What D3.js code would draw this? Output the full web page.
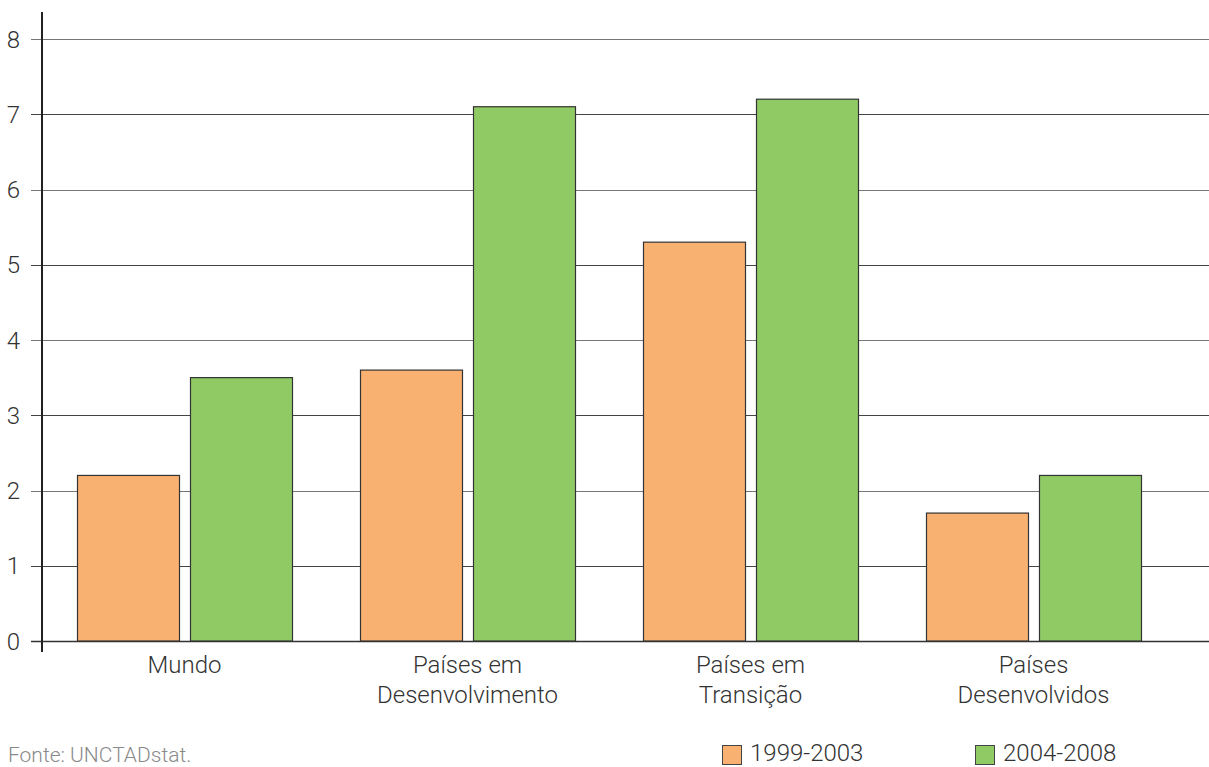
<!DOCTYPE html>
<html>
<head>
<meta charset="utf-8">
<script src="https://cdn.jsdelivr.net/npm/d3@7"></script>
<style>
  html, body { margin: 0; padding: 0; background: #fff; }
  svg { display: block; font-family: Roboto, "Open Sans", sans-serif; font-weight: 300; }
</style>
</head>
<body>
<svg id="chart" width="1209" height="767"></svg>
<script>
// Categories (two-line labels) and series values
const categories = [
  ["Mundo"],
  ["Países em", "Desenvolvimento"],
  ["Países em", "Transição"],
  ["Países", "Desenvolvidos"]
];
const seriesNames = ["1999-2003", "2004-2008"];
const values1999_2003 = [2.2, 3.6, 5.3, 1.7];
const values2004_2008 = [3.5, 7.1, 7.2, 2.2];
const yTicks = [0, 1, 2, 3, 4, 5, 6, 7, 8];
const colors = ["#F9B172", "#8FCA65"];
const source = "Fonte: UNCTADstat.";

const svg = d3.select("#chart");
const axisX = 42, plotRight = 1209;

const y = d3.scaleLinear().domain([0, 8]).range([641, 39]);
const keys = categories.map((c, i) => i);
const x0 = d3.scaleBand().domain(keys).range([axisX, 1176])
  .paddingInner(68 / 283).paddingOuter(35 / 283);
const x1 = d3.scaleBand().domain([0, 1]).range([0, x0.bandwidth()])
  .paddingInner(11 / 113).paddingOuter(0);

// Gridlines with tick marks extending left of the axis
const grid = svg.append("g");
grid.selectAll("line").data(yTicks).join("line")
  .attr("x1", 31).attr("x2", plotRight)
  .attr("y1", d => Math.round(y(d)) + 0.5).attr("y2", d => Math.round(y(d)) + 0.5)
  .attr("stroke", d => d === 0 ? "#333" : (d % 2 === 0 ? "#777" : "#444"))
  .attr("stroke-width", d => d === 0 ? 1.6 : 1);

// Y tick labels
svg.append("g").selectAll("text").data(yTicks).join("text")
  .attr("x", 20).attr("y", d => y(d)).attr("dy", "0.36em")
  .attr("text-anchor", "end").attr("font-size", 24).attr("fill", "#333")
  .text(d => d);

// Bars
const data = keys.map(i => [values1999_2003[i], values2004_2008[i]]);
const groups = svg.append("g").selectAll("g").data(data).join("g")
  .attr("transform", (d, i) => `translate(${x0(i)},0)`);
groups.selectAll("rect").data(d => d.map((v, s) => ({ v, s }))).join("rect")
  .attr("x", d => x1(d.s) + 0.5)
  .attr("width", x1.bandwidth())
  .attr("y", d => y(d.v))
  .attr("height", d => y(0) - y(d.v))
  .attr("fill", d => colors[d.s])
  .attr("stroke", "#333").attr("stroke-width", 1.2);

// Y axis line
svg.append("line")
  .attr("x1", axisX).attr("x2", axisX).attr("y1", 12).attr("y2", 652)
  .attr("stroke", "#222").attr("stroke-width", 2);

// Category labels
const cat = svg.append("g").selectAll("text").data(categories).join("text")
  .attr("x", (d, i) => x0(i) + x0.bandwidth() / 2)
  .attr("y", 673)
  .attr("text-anchor", "middle").attr("font-size", 24).attr("fill", "#333");
cat.selectAll("tspan").data(d => d).join("tspan")
  .attr("x", function () { return this.parentNode.getAttribute("x"); })
  .attr("dy", (d, i) => i === 0 ? 0 : 30)
  .text(d => d);

// Source note
svg.append("text").attr("x", 8).attr("y", 762)
  .attr("font-size", 21).attr("fill", "#8a8a8a").text(source);

// Legend
const legendX = [722, 975];
const leg = svg.append("g").selectAll("g").data(seriesNames).join("g")
  .attr("transform", (d, i) => `translate(${legendX[i]},0)`);
leg.append("rect").attr("x", 0.5).attr("y", 745.5).attr("width", 19).attr("height", 19)
  .attr("fill", (d, i) => colors[i]).attr("stroke", "#444").attr("stroke-width", 1);
leg.append("text").attr("x", 28).attr("y", 761)
  .attr("font-size", 24).attr("fill", "#333").text(d => d);
</script>
</body>
</html>
